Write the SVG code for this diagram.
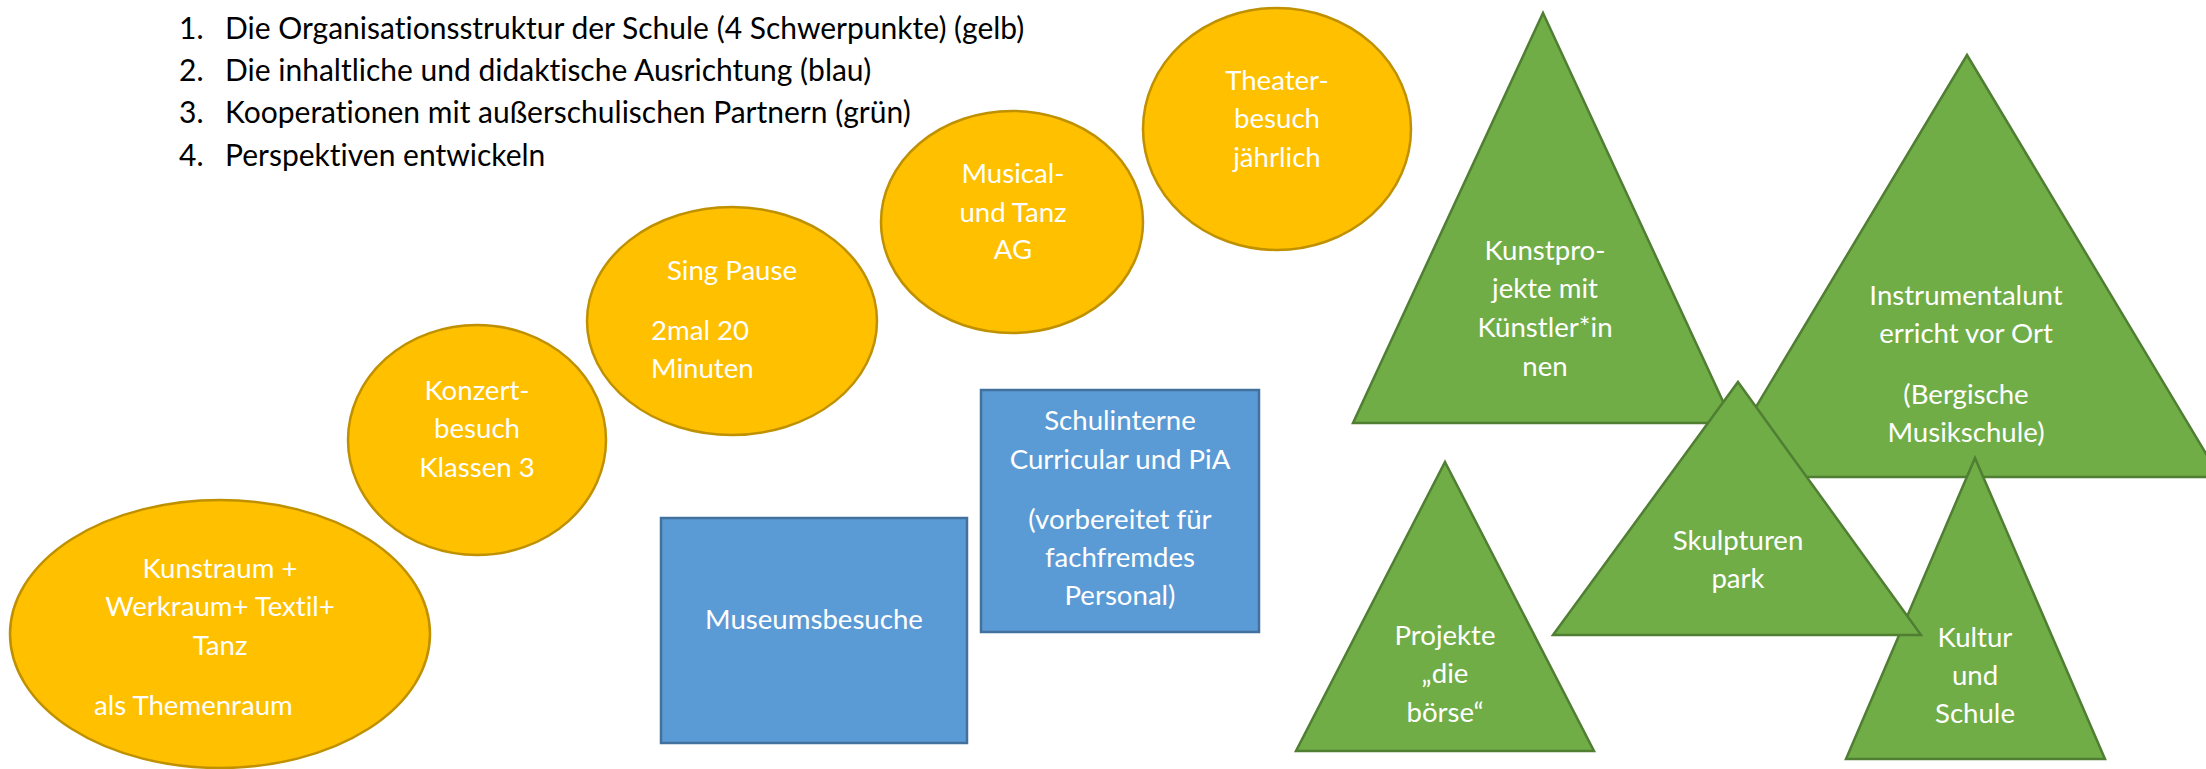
<svg xmlns="http://www.w3.org/2000/svg" width="2206" height="769" viewBox="0 0 2206 769">
<style>
.y{fill:#FFC000;stroke:#BF9000;stroke-width:2.5}
.b{fill:#5B9BD5;stroke:#41719C;stroke-width:2.5}
.g{fill:#70AD47;stroke:#507E32;stroke-width:2.5}
.t{font-family:Lato,"Liberation Sans",sans-serif;font-size:27.6px;fill:#FFFFFF;text-anchor:middle;font-variant-ligatures:none}
.ts{text-anchor:start}
.l{font-family:Lato,"Liberation Sans",sans-serif;font-size:30px;fill:#000000;font-variant-ligatures:none}
</style>
<rect width="2206" height="769" fill="#FFFFFF"/>
<g id="liste">
<text class="l" x="179" y="39">1.</text><text class="l" x="225" y="39">Die Organisationsstruktur der Schule (4 Schwerpunkte) (gelb)</text>
<text class="l" x="179" y="81">2.</text><text class="l" x="225" y="81">Die inhaltliche und didaktische Ausrichtung (blau)</text>
<text class="l" x="179" y="123">3.</text><text class="l" x="225" y="123">Kooperationen mit außerschulischen Partnern (grün)</text>
<text class="l" x="179" y="166">4.</text><text class="l" x="225" y="166">Perspektiven entwickeln</text>
</g>
<g id="connectors"/>
<g id="kunstraum">
<ellipse class="y" cx="220" cy="634" rx="210" ry="134"/>
<text class="t" x="220" y="578">Kunstraum +</text>
<text class="t" x="220" y="616">Werkraum+ Textil+</text>
<text class="t" x="220" y="655">Tanz</text>
<text class="t ts" x="94" y="715">als Themenraum</text>
</g>
<g id="konzertbesuch">
<ellipse class="y" cx="477" cy="440" rx="129" ry="115"/>
<text class="t" x="477" y="400">Konzert-</text>
<text class="t" x="477" y="438">besuch</text>
<text class="t" x="477" y="477">Klassen 3</text>
</g>
<g id="singpause">
<ellipse class="y" cx="732" cy="321" rx="145" ry="114"/>
<text class="t" x="732" y="280">Sing Pause</text>
<text class="t ts" x="651" y="340">2mal 20</text>
<text class="t ts" x="651" y="378">Minuten</text>
</g>
<g id="musical">
<ellipse class="y" cx="1012" cy="222" rx="131" ry="111"/>
<text class="t" x="1013" y="183">Musical-</text>
<text class="t" x="1013" y="222">und Tanz</text>
<text class="t" x="1013" y="259">AG</text>
</g>
<g id="theater">
<ellipse class="y" cx="1277" cy="129" rx="134" ry="121"/>
<text class="t" x="1277" y="90">Theater-</text>
<text class="t" x="1277" y="128">besuch</text>
<text class="t" x="1277" y="167">jährlich</text>
</g>
<g id="museumsbesuche">
<rect class="b" x="661" y="518" width="306" height="225"/>
<text class="t" x="814" y="629">Museumsbesuche</text>
</g>
<g id="schulinterne">
<rect class="b" x="981" y="390" width="278" height="242"/>
<text class="t" x="1120" y="430">Schulinterne</text>
<text class="t" x="1120" y="469">Curricular und PiA</text>
<text class="t" x="1120" y="529">(vorbereitet für</text>
<text class="t" x="1120" y="567">fachfremdes</text>
<text class="t" x="1120" y="605">Personal)</text>
</g>
<g id="kunstprojekte">
<polygon class="g" points="1543,13 1733,423 1353,423"/>
<text class="t" x="1545" y="260">Kunstpro-</text>
<text class="t" x="1545" y="298">jekte mit</text>
<text class="t" x="1545" y="337">Künstler*in</text>
<text class="t" x="1545" y="376">nen</text>
</g>
<g id="instrumental">
<polygon class="g" points="1967,55 2220,477 1714,477"/>
<text class="t" x="1966" y="305">Instrumentalunt</text>
<text class="t" x="1966" y="343">erricht vor Ort</text>
<text class="t" x="1966" y="404">(Bergische</text>
<text class="t" x="1966" y="442">Musikschule)</text>
</g>
<g id="projekte">
<polygon class="g" points="1445,462 1594,751 1296,751"/>
<text class="t" x="1445" y="645">Projekte</text>
<text class="t" x="1445" y="683">„die</text>
<text class="t" x="1445" y="722">börse“</text>
</g>
<g id="kultur">
<polygon class="g" points="1975,458 2105,759 1846,759"/>
<text class="t" x="1975" y="647">Kultur</text>
<text class="t" x="1975" y="685">und</text>
<text class="t" x="1975" y="723">Schule</text>
</g>
<g id="skulpturen">
<polygon class="g" points="1738,382 1921,635 1553,635"/>
<text class="t" x="1738" y="550">Skulpturen</text>
<text class="t" x="1738" y="588">park</text>
</g>
</svg>
